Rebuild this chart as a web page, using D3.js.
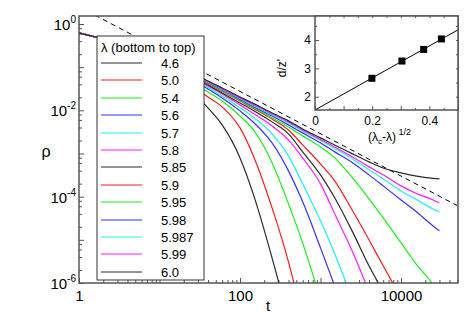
<!DOCTYPE html>
<html>
<head>
<meta charset="utf-8">
<script src="https://cdn.jsdelivr.net/npm/d3@7"></script>
<style>
  body { margin: 0; background: #fff; }
  text { font-family: "Liberation Sans", Arial, sans-serif; fill: #000; }
</style>
</head>
<body>
<div id="chart-container"></div>
<script>
"use strict"

// shared time grid (t) for the decay curves
const times = [1, 2, 40, 60, 100, 150, 250, 400, 600, 1000, 1500, 2500, 4000, 6000, 10000, 15000, 25000, 30000];

// rho(t) for each lambda (shorter arrays = curve left the frame)
const rho_4_6   = [0.62, 0.44, 1.14e-2, 4.6e-3, 7.9e-4, 9.9e-5, 3.83e-6, 1.4e-7];
const rho_5_0   = [0.62, 0.44, 2.04e-2, 1.2e-2, 3.91e-3, 7.9e-4, 5.5e-5, 3.1e-6, 1.4e-7];
const rho_5_4   = [0.62, 0.44, 2.67e-2, 1.65e-2, 7.4e-3, 3.33e-3, 6.1e-4, 6.8e-5, 8.5e-6, 4.1e-7];
const rho_5_6   = [0.62, 0.44, 3.13e-2, 1.94e-2, 9.7e-3, 5.1e-3, 1.76e-3, 3.96e-4, 7.6e-5, 6.5e-6, 8.6e-7];
const rho_5_7   = [0.62, 0.44, 3.39e-2, 2.15e-2, 1.14e-2, 6.7e-3, 2.84e-3, 8.8e-4, 1.98e-4, 2.75e-5, 4.74e-6, 4.1e-7];
const rho_5_8   = [0.62, 0.44, 3.67e-2, 2.4e-2, 1.33e-2, 8.25e-3, 4.35e-3, 2.06e-3, 7.9e-4, 1.98e-4, 4.0e-5, 5.27e-6, 6.3e-7];
const rho_5_85  = [0.62, 0.44, 3.87e-2, 2.53e-2, 1.48e-2, 9.7e-3, 5.4e-3, 2.84e-3, 1.09e-3, 3.2e-4, 9.4e-5, 1.53e-5, 2.5e-6, 6.3e-7];
const rho_5_9   = [0.62, 0.44, 4.08e-2, 2.74e-2, 1.65e-2, 1.08e-2, 6.3e-3, 3.5e-3, 1.58e-3, 5.7e-4, 2.32e-4, 4.7e-5, 1.0e-5, 2.5e-6, 4.5e-7];
const rho_5_95  = [0.62, 0.44, 4.31e-2, 2.81e-2, 1.7e-2, 1.14e-2, 6.7e-3, 4.1e-3, 2.56e-3, 1.42e-3, 7.9e-4, 2.72e-4, 8.9e-5, 3.23e-5, 8.5e-6, 2.94e-6, 9.1e-7, 5.3e-7];
const rho_5_98  = [0.62, 0.44, 4.42e-2, 2.97e-2, 1.79e-2, 1.2e-2, 7.4e-3, 4.6e-3, 3.0e-3, 1.76e-3, 1.09e-3, 6.1e-4, 3.2e-4, 1.78e-4, 8.4e-5, 4.7e-5, 2.1e-5, 1.62e-5];
const rho_5_987 = [0.62, 0.44, 4.55e-2, 3.05e-2, 1.89e-2, 1.26e-2, 7.8e-3, 5.1e-3, 3.33e-3, 2.01e-3, 1.31e-3, 7.5e-4, 4.2e-4, 2.58e-4, 1.36e-4, 8.9e-5, 5.2e-5, 4.45e-5];
const rho_5_99  = [0.62, 0.44, 4.67e-2, 3.13e-2, 1.94e-2, 1.33e-2, 8.25e-3, 5.39e-3, 3.52e-3, 2.12e-3, 1.42e-3, 8.3e-4, 4.9e-4, 3.2e-4, 1.78e-4, 1.22e-4, 8.4e-5, 7.2e-5];
const rho_6_0   = [0.62, 0.44, 4.8e-2, 3.3e-2, 2.04e-2, 1.41e-2, 8.7e-3, 5.7e-3, 3.7e-3, 2.3e-3, 1.58e-3, 9.8e-4, 6.4e-4, 4.6e-4, 3.56e-4, 3.03e-4, 2.65e-4, 2.58e-4];

const lambdas = ["4.6", "5.0", "5.4", "5.6", "5.7", "5.8", "5.85", "5.9", "5.95", "5.98", "5.987", "5.99", "6.0"];
const curveColors = ["#2a2a2a", "#ff1a1a", "#1aee1a", "#3333ff", "#1af0f0", "#ff1aff",
                     "#2a2a2a", "#ff1a1a", "#1aee1a", "#3333ff", "#1af0f0", "#ff1aff", "#2a2a2a"];
const rhoSeries = [rho_4_6, rho_5_0, rho_5_4, rho_5_6, rho_5_7, rho_5_8, rho_5_85,
                   rho_5_9, rho_5_95, rho_5_98, rho_5_987, rho_5_99, rho_6_0];

// dashed power-law guide
const dashT   = [1, 50000];
const dashRho = [2.5, 6.2e-5];

// inset: d/z' vs (lambda_c - lambda)^1/2
const insetX = [0.199, 0.304, 0.380, 0.442];
const insetY = [2.65, 3.26, 3.67, 4.04];
const fitX = [0, 0.5];
const fitY = [1.53, 4.36];

// tick labels
const xLabels = [1, 100, 10000];
const yLabelExp = [0, -2, -4, -6];

document.addEventListener('DOMContentLoaded', function(){
  drawChart();
});

function drawChart(){
  let svgWidth = 469;
  let svgHeight = 332;
  let left = 79, right = 458, top = 16, bottom = 283;

  var svg = d3.select('#chart-container')
    .append('svg')
    .attr('width', svgWidth)
    .attr('height', svgHeight);

  /***************************************
   SCALES
  ***************************************/
  let xScale = d3.scaleLog().domain([1, 51000]).range([left, right]);
  let yScale = d3.scaleLog().domain([Math.pow(10, 0.185), 1e-6]).range([top, bottom]);

  svg.append('clipPath').attr('id', 'plot-clip')
    .append('rect')
    .attr('x', left).attr('y', top)
    .attr('width', right - left).attr('height', bottom - top);

  /***************************************
   AXES (ticks inside)
  ***************************************/
  let decadesX = [1, 10, 100, 1000, 10000];
  let minorX = [];
  for (let d = 1; d <= 10000; d *= 10)
    for (let m = 2; m <= 9; m++) if (d * m < 51000) minorX.push(d * m);

  let decadesY = [1, 1e-1, 1e-2, 1e-3, 1e-4, 1e-5, 1e-6];
  let minorY = [];
  for (let d = 1e-6; d < 1; d *= 10)
    [2, 4, 6, 8].forEach(m => minorY.push(d * m));

  svg.append('g')
    .attr('transform', 'translate(0,' + bottom + ')')
    .attr('class', 'axis')
    .call(d3.axisBottom(xScale).tickValues(decadesX).tickSize(-5).tickSizeOuter(0).tickPadding(7)
      .tickFormat(d => xLabels.includes(d) ? d : ''));
  svg.append('g')
    .attr('transform', 'translate(0,' + bottom + ')')
    .attr('class', 'axis')
    .call(d3.axisBottom(xScale).tickValues(minorX).tickSize(-3).tickSizeOuter(0).tickFormat(''));

  svg.append('g')
    .attr('transform', 'translate(' + left + ',0)')
    .attr('class', 'axis')
    .call(d3.axisLeft(yScale).tickValues(decadesY).tickSize(-5).tickSizeOuter(0).tickFormat(''));
  svg.append('g')
    .attr('transform', 'translate(' + left + ',0)')
    .attr('class', 'axis')
    .call(d3.axisLeft(yScale).tickValues(minorY).tickSize(-3).tickSizeOuter(0).tickFormat(''));

  svg.selectAll('.axis .domain').remove();
  svg.selectAll('.axis').attr('color', '#555');
  svg.selectAll('.axis text').style('font-size', '15px').attr('fill', '#000');

  // y labels 10^n
  yLabelExp.forEach(e => {
    let t = svg.append('text')
      .attr('x', 76)
      .attr('y', yScale(Math.pow(10, e)) + 6)
      .attr('text-anchor', 'end')
      .style('font-size', '15px');
    t.append('tspan').text('10');
    t.append('tspan').attr('dy', -7).style('font-size', '10px').text(e);
  });

  // axis titles
  svg.append('text')
    .attr('x', 46).attr('y', 157)
    .attr('text-anchor', 'middle')
    .style('font-size', '16px')
    .text('ρ');
  svg.append('text')
    .attr('x', 268).attr('y', 311)
    .attr('text-anchor', 'middle')
    .style('font-size', '15px')
    .text('t');

  /***************************************
   CURVES
  ***************************************/
  let line = d3.line()
    .x(d => xScale(d[0]))
    .y(d => yScale(d[1]))
    .curve(d3.curveMonotoneX);

  let plot = svg.append('g').attr('clip-path', 'url(#plot-clip)');

  rhoSeries.forEach((vals, i) => {
    plot.append('path')
      .datum(vals.map((v, j) => [times[j], v]))
      .attr('d', line)
      .attr('fill', 'none')
      .attr('stroke', curveColors[i])
      .attr('stroke-width', 1.2);
  });

  plot.append('path')
    .datum(dashT.map((t, j) => [t, dashRho[j]]))
    .attr('d', d3.line().x(d => xScale(d[0])).y(d => yScale(d[1])))
    .attr('fill', 'none')
    .attr('stroke', '#000')
    .attr('stroke-width', 1)
    .attr('stroke-dasharray', '5,4');

  // frame
  svg.append('rect')
    .attr('x', left).attr('y', top)
    .attr('width', right - left).attr('height', bottom - top)
    .attr('fill', 'none')
    .attr('stroke', '#555')
    .attr('stroke-width', 1.5);

  /***************************************
   LEGEND
  ***************************************/
  let legend = svg.append('g');
  legend.append('rect')
    .attr('x', 97).attr('y', 36)
    .attr('width', 107).attr('height', 244)
    .attr('fill', '#fff')
    .attr('stroke', '#333')
    .attr('stroke-width', 1);
  legend.append('text')
    .attr('x', 101).attr('y', 52)
    .style('font-size', '13px')
    .text('λ (bottom to top)');

  lambdas.forEach((lam, i) => {
    let ly = Math.round(63 + i * 17.39);
    legend.append('line')
      .attr('x1', 101).attr('x2', 142)
      .attr('y1', ly).attr('y2', ly)
      .attr('stroke', curveColors[i])
      .attr('stroke-width', 1.2);
    legend.append('text')
      .attr('x', 161).attr('y', ly + 4.5)
      .style('font-size', '13px')
      .text(lam);
  });

  /***************************************
   INSET
  ***************************************/
  let il = 315, ir = 458, it = 16, ib = 110;
  let ix = d3.scaleLinear().domain([0, 0.5]).range([il, ir]);
  let iy = d3.scaleLinear().domain([1.53, 4.85]).range([ib, it]);

  let inset = svg.append('g');
  inset.append('rect')
    .attr('x', il).attr('y', it)
    .attr('width', ir - il).attr('height', ib - it)
    .attr('fill', '#fff');

  let ixMajor = [0, 0.1, 0.2, 0.3, 0.4, 0.5];
  let ixMinor = [0.05, 0.15, 0.25, 0.35, 0.45];
  let iyMajor = [2, 3, 4];
  let iyMinor = [2.5, 3.5, 4.5];
  let fmtX = d => [0, 0.2, 0.4].some(v => Math.abs(v - d) < 1e-9) ? String(+d.toFixed(1)) : '';

  inset.append('g').attr('class', 'iaxis')
    .attr('transform', 'translate(0,' + ib + ')')
    .call(d3.axisBottom(ix).tickValues(ixMajor).tickSize(-4).tickSizeOuter(0).tickPadding(6).tickFormat(fmtX));
  inset.append('g').attr('class', 'iaxis')
    .attr('transform', 'translate(0,' + ib + ')')
    .call(d3.axisBottom(ix).tickValues(ixMinor).tickSize(-2).tickSizeOuter(0).tickFormat(''));
  inset.append('g').attr('class', 'iaxis')
    .attr('transform', 'translate(0,' + it + ')')
    .call(d3.axisTop(ix).tickValues(ixMajor.concat(ixMinor)).tickSize(-2).tickSizeOuter(0).tickFormat(''));
  inset.append('g').attr('class', 'iaxis')
    .attr('transform', 'translate(' + il + ',0)')
    .call(d3.axisLeft(iy).tickValues(iyMajor).tickSize(-4).tickSizeOuter(0).tickPadding(4).tickFormat(d3.format('d')));
  inset.append('g').attr('class', 'iaxis')
    .attr('transform', 'translate(' + il + ',0)')
    .call(d3.axisLeft(iy).tickValues(iyMinor).tickSize(-2).tickSizeOuter(0).tickFormat(''));
  inset.append('g').attr('class', 'iaxis')
    .attr('transform', 'translate(' + ir + ',0)')
    .call(d3.axisRight(iy).tickValues(iyMajor.concat(iyMinor)).tickSize(-2).tickSizeOuter(0).tickFormat(''));

  inset.selectAll('.iaxis .domain').remove();
  inset.selectAll('.iaxis').attr('color', '#555');
  inset.selectAll('.iaxis text').style('font-size', '12px').attr('fill', '#000');

  inset.append('path')
    .datum(fitX.map((x, j) => [x, fitY[j]]))
    .attr('d', d3.line().x(d => ix(d[0])).y(d => iy(d[1])))
    .attr('fill', 'none')
    .attr('stroke', '#000')
    .attr('stroke-width', 1);

  inset.selectAll('rect.pt')
    .data(insetX.map((x, j) => [x, insetY[j]]))
    .enter()
    .append('rect')
    .attr('class', 'pt')
    .attr('x', d => ix(d[0]) - 3.5)
    .attr('y', d => iy(d[1]) - 3.5)
    .attr('width', 7).attr('height', 7)
    .attr('fill', '#000');

  inset.append('rect')
    .attr('x', il).attr('y', it)
    .attr('width', ir - il).attr('height', ib - it)
    .attr('fill', 'none')
    .attr('stroke', '#555')
    .attr('stroke-width', 1.5);

  // inset labels
  let xl = inset.append('text')
    .attr('x', 368).attr('y', 141)
    .style('font-size', '12px');
  xl.append('tspan').text('(λ');
  xl.append('tspan').attr('dy', 3).style('font-size', '8px').text('c');
  xl.append('tspan').attr('dy', -3).text('-λ)');
  xl.append('tspan').attr('dy', -6).style('font-size', '9px').text(' 1/2');

  inset.append('text')
    .attr('transform', 'translate(286,68) rotate(-90)')
    .attr('text-anchor', 'middle')
    .style('font-size', '12px')
    .text("d/z'");
}
</script>
</body>
</html>
